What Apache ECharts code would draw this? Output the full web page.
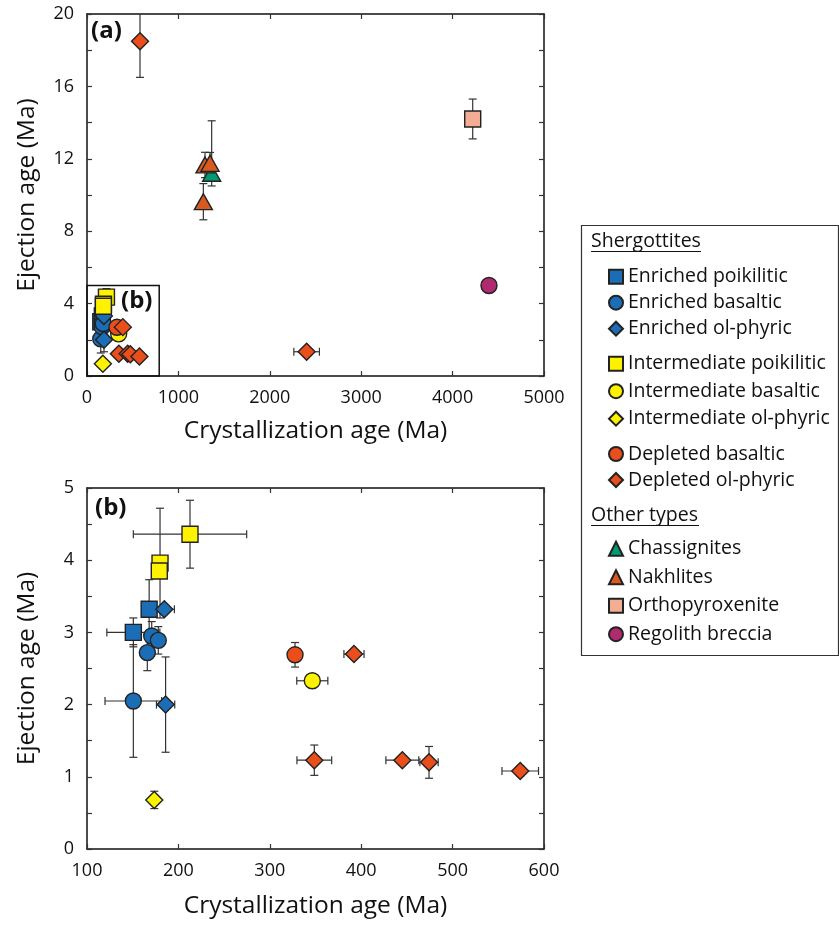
<!DOCTYPE html>
<html>
<head>
<meta charset="utf-8">
<script src="https://cdn.jsdelivr.net/npm/echarts@6/dist/echarts.min.js"></script>
<style>
  html, body { margin: 0; padding: 0; background: #fff; }
</style>
</head>
<body>
<div id="chart-container" style="width: 839px; height: 925px"></div>
<script>
// each point: [crystallization age, ejection age, x error, y error (+), optional y error (-)]
const enrichedPoikilitic = [[150.7, 3.0, 29, 0.2], [168, 3.32, 0, 0.41]];
const enrichedBasaltic = [[150.7, 2.05, 31, 0.78], [166, 2.72, 0, 0.25], [170.8, 2.95, 0, 0.2], [178, 2.89, 0, 0.19]];
const enrichedOlPhyric = [[184.6, 3.32, 11, 0], [186, 2.0, 10, 0.66]];
const intermediatePoikilitic = [[212.7, 4.36, 62, 0.47], [179.9, 3.96, 0, 0.76], [179.1, 3.85, 0, 0]];
const intermediateBasaltic = [[346.5, 2.33, 17, 0]];
const intermediateOlPhyric = [[173.6, 0.68, 0, 0.12]];
const depletedBasaltic = [[327.6, 2.69, 5, 0.17]];
const depletedOlPhyric = [[392.1, 2.7, 11, 0], [348.7, 1.23, 19, 0.21], [445, 1.23, 18, 0],
  [474.2, 1.2, 10, 0.22], [574, 1.08, 20, 0.07], [580, 18.5, 0, 2.0], [2403, 1.34, 140, 0]];
const chassignites = [[1364, 11.2, 0, 2.9, 0.7]];
const nakhlites = [[1291, 11.66, 0, 0.7], [1346, 11.75, 0, 0.6], [1273, 9.63, 0, 1.0]];
const orthopyroxenite = [[4220, 14.2, 0, 1.1]];
const regolithBreccia = [[4398, 5.0, 0, 0]];

// area of panel (b) drawn inside panel (a): [xmin, xmax, ymin, ymax]
const insetExtent = [0, 790, 0, 5];

const xTicksA = [0, 5000, 1000];
const yTicksA = [0, 20, 2];
const xTicksB = [100, 600, 100];
const yTicksB = [0, 5, 0.5];

const FONT = "Open Sans";

const groups = [
  { name: "Enriched poikilitic", data: enrichedPoikilitic, symbol: "rect", color: "#1b6db5" },
  { name: "Enriched basaltic", data: enrichedBasaltic, symbol: "circle", color: "#1b6db5" },
  { name: "Enriched ol-phyric", data: enrichedOlPhyric, symbol: "diamond", color: "#1b6db5" },
  { name: "Intermediate poikilitic", data: intermediatePoikilitic, symbol: "rect", color: "#fff200" },
  { name: "Intermediate basaltic", data: intermediateBasaltic, symbol: "circle", color: "#fff200" },
  { name: "Intermediate ol-phyric", data: intermediateOlPhyric, symbol: "diamond", color: "#fff200" },
  { name: "Depleted basaltic", data: depletedBasaltic, symbol: "circle", color: "#e94e1b" },
  { name: "Depleted ol-phyric", data: depletedOlPhyric, symbol: "diamond", color: "#e94e1b" },
  { name: "Chassignites", data: chassignites, symbol: "triangle", color: "#009b72" },
  { name: "Nakhlites", data: nakhlites, symbol: "triangle", color: "#d95a20" },
  { name: "Orthopyroxenite", data: orthopyroxenite, symbol: "rect", color: "#f2ad92" },
  { name: "Regolith breccia", data: regolithBreccia, symbol: "circle", color: "#b02a6f" },
];

const symbolSizes = { rect: 16, circle: 16, diamond: 17, triangle: [18, 16] };

function renderErr(params, api) {
  const x = api.value(0), y = api.value(1), dx = api.value(2), dy = api.value(3);
  const dyLow = isNaN(api.value(4)) ? dy : api.value(4);
  const cap = 4;
  const style = { stroke: "#333", lineWidth: 1.2 };
  const children = [];
  if (dx > 0) {
    const l = api.coord([x - dx, y]), r = api.coord([x + dx, y]);
    children.push({ type: "line", shape: { x1: l[0], y1: l[1], x2: r[0], y2: r[1] }, style });
    children.push({ type: "line", shape: { x1: l[0], y1: l[1] - cap, x2: l[0], y2: l[1] + cap }, style });
    children.push({ type: "line", shape: { x1: r[0], y1: r[1] - cap, x2: r[0], y2: r[1] + cap }, style });
  }
  if (dy > 0) {
    const t = api.coord([x, y + dy]), b = api.coord([x, y - dyLow]);
    children.push({ type: "line", shape: { x1: t[0], y1: t[1], x2: b[0], y2: b[1] }, style });
    children.push({ type: "line", shape: { x1: t[0] - cap, y1: t[1], x2: t[0] + cap, y2: t[1] }, style });
    children.push({ type: "line", shape: { x1: b[0] - cap, y1: b[1], x2: b[0] + cap, y2: b[1] }, style });
  }
  return { type: "group", children };
}

function renderInset(params, api) {
  const p0 = api.coord([api.value(0), api.value(3)]);
  const p1 = api.coord([api.value(1), api.value(2)]);
  return {
    type: "rect",
    shape: { x: p0[0], y: p0[1], width: p1[0] - p0[0], height: p1[1] - p0[1] },
    style: { fill: "none", stroke: "#111", lineWidth: 1.5 },
  };
}

function makeAxis(type, ticks, gridIndex, position, labels, labelFilter, name, nameGap) {
  return {
    type: "value",
    gridIndex,
    position,
    min: ticks[0],
    max: ticks[1],
    interval: ticks[2],
    name: name || "",
    nameLocation: "middle",
    nameGap: nameGap || 0,
    nameTextStyle: { fontFamily: FONT, fontSize: 24.5, color: "#111" },
    splitLine: { show: false },
    axisLine: { show: true, onZero: false, lineStyle: { color: "#111", width: 1.5 } },
    axisTick: { show: true, inside: true, length: 5, lineStyle: { color: "#333", width: 1.2 } },
    axisLabel: {
      show: labels,
      margin: 13,
      fontFamily: FONT,
      fontSize: 18,
      color: "#111",
      formatter: labelFilter,
    },
  };
}

const xAxes = [
  makeAxis("x", xTicksA, 0, "bottom", true, (v) => String(v), "Crystallization age (Ma)", 43),
  makeAxis("x", xTicksA, 0, "top", false),
  makeAxis("x", xTicksB, 1, "bottom", true, (v) => String(v), "Crystallization age (Ma)", 45),
  makeAxis("x", xTicksB, 1, "top", false),
];
const yAxes = [
  makeAxis("y", yTicksA, 0, "left", true, (v) => (v % 4 === 0 ? String(v) : ""), "Ejection age (Ma)", 47),
  makeAxis("y", yTicksA, 0, "right", false),
  makeAxis("y", yTicksB, 1, "left", true, (v) => (v % 1 === 0 ? String(v) : ""), "Ejection age (Ma)", 47),
  makeAxis("y", yTicksB, 1, "right", false),
];

const series = [];
const allPoints = [].concat(...groups.map((g) => g.data)).map((d) => (d.length > 4 ? d : d.concat([NaN])));
[0, 1].forEach((gi) => {
  series.push({
    type: "custom",
    name: "errors" + gi,
    xAxisIndex: gi * 2,
    yAxisIndex: gi * 2,
    renderItem: renderErr,
    encode: { x: 0, y: 1 },
    data: allPoints,
    clip: true,
    z: 1,
    silent: true,
  });
  groups.forEach((g) => {
    series.push({
      type: "scatter",
      name: g.name,
      xAxisIndex: gi * 2,
      yAxisIndex: gi * 2,
      symbol: g.symbol,
      symbolSize: symbolSizes[g.symbol],
      data: g.data.map((d) => [d[0], d[1]]),
      itemStyle: { color: g.color, borderColor: "#222", borderWidth: 1.4, opacity: 1 },
      clip: true,
      z: 3,
    });
  });
});
series.push({
  type: "custom",
  name: "inset",
  xAxisIndex: 0,
  yAxisIndex: 0,
  renderItem: renderInset,
  data: [insetExtent],
  z: 4,
  silent: true,
});

function legendGroup(names, centerY, gap) {
  return {
    orient: "vertical",
    left: 603,
    top: centerY - 14,
    itemWidth: 14,
    itemHeight: 14,
    itemGap: gap,
    selectedMode: false,
    data: names,
    textStyle: { fontFamily: FONT, fontSize: 19.5, color: "#111", lineHeight: 20 },
  };
}

const option = {
  animation: false,
  backgroundColor: "#fff",
  grid: [
    { left: 87, top: 14, width: 457, height: 362 },
    { left: 87, top: 488, width: 457, height: 361 },
  ],
  xAxis: xAxes,
  yAxis: yAxes,
  legend: [
    legendGroup(groups.slice(0, 3).map((g) => g.name), 275.7, 6),
    legendGroup(groups.slice(3, 6).map((g) => g.name), 362.7, 7.5),
    legendGroup(groups.slice(6, 8).map((g) => g.name), 453, 6),
    legendGroup(groups.slice(8).map((g) => g.name), 547.7, 8.5),
  ],
  graphic: [
    { type: "rect", shape: { x: 581.5, y: 225.5, width: 257, height: 430 }, style: { fill: "none", stroke: "#333", lineWidth: 1.2 } },
    { type: "text", x: 591, y: 241, style: { text: "Shergottites", font: "19.5px '" + FONT + "'", fill: "#111", verticalAlign: "middle" } },
    { type: "line", shape: { x1: 591, y1: 251.5, x2: 701, y2: 251.5 }, style: { stroke: "#111", lineWidth: 1.2 } },
    { type: "text", x: 591, y: 515, style: { text: "Other types", font: "19.5px '" + FONT + "'", fill: "#111", verticalAlign: "middle" } },
    { type: "line", shape: { x1: 591, y1: 525.5, x2: 699, y2: 525.5 }, style: { stroke: "#111", lineWidth: 1.2 } },
    { type: "text", x: 91, y: 31, style: { text: "(a)", font: "bold 24px '" + FONT + "'", fill: "#111", verticalAlign: "middle" } },
    { type: "text", x: 121, y: 301, style: { text: "(b)", font: "bold 24px '" + FONT + "'", fill: "#111", verticalAlign: "middle" } },
    { type: "text", x: 95, y: 508, style: { text: "(b)", font: "bold 24px '" + FONT + "'", fill: "#111", verticalAlign: "middle" } },
  ],
  series,
};

const myChart = echarts.init(document.getElementById("chart-container"));
myChart.setOption(option);
</script>
</body>
</html>
